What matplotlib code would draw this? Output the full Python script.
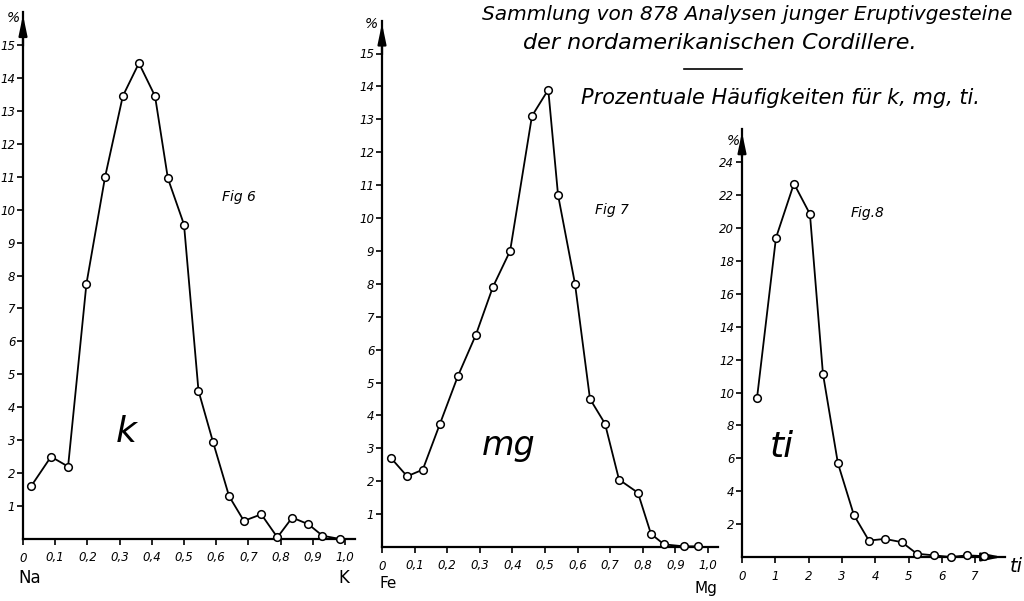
import matplotlib
matplotlib.use("Agg")
import matplotlib.pyplot as plt

# Fig 6: k  (Na -> K)
k_x = [0.025, 0.087, 0.14, 0.197, 0.255, 0.31, 0.36, 0.41, 0.45, 0.50,
       0.545, 0.59, 0.64, 0.686, 0.74, 0.79, 0.836, 0.886, 0.93, 0.985]
k_y = [1.6, 2.5, 2.2, 7.75, 11.0, 13.45, 14.45, 13.45, 10.95, 9.55,
       4.5, 2.95, 1.3, 0.55, 0.75, 0.05, 0.65, 0.45, 0.1, 0.0]

# Fig 7: mg  (Fe -> Mg)
mg_x = [0.028, 0.077, 0.125, 0.178, 0.233, 0.288, 0.34, 0.393, 0.46, 0.51,
        0.54, 0.592, 0.638, 0.684, 0.727, 0.785, 0.825, 0.865, 0.926, 0.97]
mg_y = [2.7, 2.15, 2.35, 3.75, 5.2, 6.45, 7.9, 9.0, 13.1, 13.9,
        10.7, 8.0, 4.5, 3.75, 2.05, 1.65, 0.4, 0.08, 0.02, 0.02]

# Fig 8: ti
ti_x = [0.45, 1.02, 1.56, 2.04, 2.43, 2.88, 3.36, 3.81, 4.29, 4.8,
        5.25, 5.76, 6.27, 6.76, 7.27]
ti_y = [9.65, 19.4, 22.7, 20.85, 11.15, 5.7, 2.55, 1.0, 1.1, 0.9,
        0.2, 0.1, 0.0, 0.1, 0.05]

frac_ticks = [0, 0.1, 0.2, 0.3, 0.4, 0.5, 0.6, 0.7, 0.8, 0.9, 1.0]
frac_labels = ["0", "0,1", "0,2", "0,3", "0,4", "0,5", "0,6", "0,7", "0,8", "0,9", "1,0"]
pct_ticks = list(range(1, 16))
ti_xticks = [0, 1, 2, 3, 4, 5, 6, 7]
ti_yticks = [2, 4, 6, 8, 10, 12, 14, 16, 18, 20, 22, 24]

W, H = 1024, 601
plt.rcParams["font.family"] = "DejaVu Sans"
plt.rcParams["font.style"] = "italic"

fig = plt.figure(figsize=(W / 100, H / 100), dpi=100)
fig.patch.set_facecolor("white")


def px(x, y):
    return x / W, 1 - y / H


def add_panel(x0, y0, px_x, px_y, xmax, ymax):
    # x0, y0: pixel position of the origin; px_x, px_y: pixels per data unit
    ax = fig.add_axes([x0 / W, (H - y0) / H, xmax * px_x / W, ymax * px_y / H])
    ax.set_xlim(0, xmax)
    ax.set_ylim(0, ymax)
    ax.patch.set_alpha(0)
    for s in ["top", "right"]:
        ax.spines[s].set_visible(False)
    for s in ["left", "bottom"]:
        ax.spines[s].set_linewidth(1.6)
    ax.tick_params(direction="out", length=4, width=1.2, labelsize=8.5)
    ax.tick_params(axis="x", pad=5)
    ax.tick_params(axis="y", pad=1.5)
    ax.annotate("", xy=(0, 1.0), xytext=(0, 0.93), xycoords="axes fraction",
                arrowprops=dict(arrowstyle="-|>,head_length=1.2,head_width=0.25",
                                color="black", lw=1.6))
    return ax


def draw(ax, x, y):
    ax.plot(x, y, color="black", lw=1.3, marker="o", ms=5.5,
            mfc="white", mec="black", mew=1.1, clip_on=False, zorder=5)


# Fig 6
ax1 = add_panel(23, 539, 322, 32.93, 1.03, 16.0)
draw(ax1, k_x, k_y)
ax1.set_xticks(frac_ticks, frac_labels)
ax1.set_yticks(pct_ticks)

# Fig 7
ax2 = add_panel(382, 547, 326, 32.9, 1.03, 16.0)
draw(ax2, mg_x, mg_y)
ax2.set_xticks(frac_ticks, frac_labels)
ax2.set_yticks(pct_ticks)

# Fig 8
ax3 = add_panel(742, 557, 33.3, 16.45, 7.9, 26.0)
draw(ax3, ti_x, ti_y)
ax3.set_xticks(ti_xticks)
ax3.set_yticks(ti_yticks)
ax3.annotate("", xy=(1.0, 0), xytext=(0.9, 0), xycoords="axes fraction",
             arrowprops=dict(arrowstyle="-|>,head_length=1.2,head_width=0.25",
                             color="black", lw=1.6))

# labels
fig.text(*px(13, 18), "%", fontsize=10, ha="center", va="center")
fig.text(*px(371, 24), "%", fontsize=10, ha="center", va="center")
fig.text(*px(733, 141), "%", fontsize=10, ha="center", va="center")

fig.text(*px(30, 578), "Na", fontsize=12, style="normal", ha="center", va="center")
fig.text(*px(344, 578), "K", fontsize=12, style="normal", ha="center", va="center")
fig.text(*px(388, 584), "Fe", fontsize=11, style="normal", ha="center", va="center")
fig.text(*px(706, 588), "Mg", fontsize=11, style="normal", ha="center", va="center")
fig.text(*px(1016, 566), "ti", fontsize=14, ha="center", va="center")

fig.text(*px(239, 197), "Fig 6", fontsize=10, ha="center", va="center")
fig.text(*px(612, 210), "Fig 7", fontsize=10, ha="center", va="center")
fig.text(*px(868, 213), "Fig.8", fontsize=10, ha="center", va="center")

fig.text(*px(126, 432), "k", fontsize=26, ha="center", va="center")
fig.text(*px(509, 445), "mg", fontsize=24, ha="center", va="center")
fig.text(*px(782, 447), "ti", fontsize=26, ha="center", va="center")

fig.text(*px(482, 15), "Sammlung von 878 Analysen junger Eruptivgesteine",
         fontsize=14.5, ha="left", va="center")
fig.text(*px(523, 43), "der nordamerikanischen Cordillere.",
         fontsize=16, ha="left", va="center")
fig.add_artist(plt.Line2D([684 / W, 742 / W], [1 - 69 / H, 1 - 69 / H],
                          color="black", lw=1.2))
fig.text(*px(581, 98), "Prozentuale Häufigkeiten für k, mg, ti.",
         fontsize=15, ha="left", va="center")

fig.savefig("out.png", dpi=100)
